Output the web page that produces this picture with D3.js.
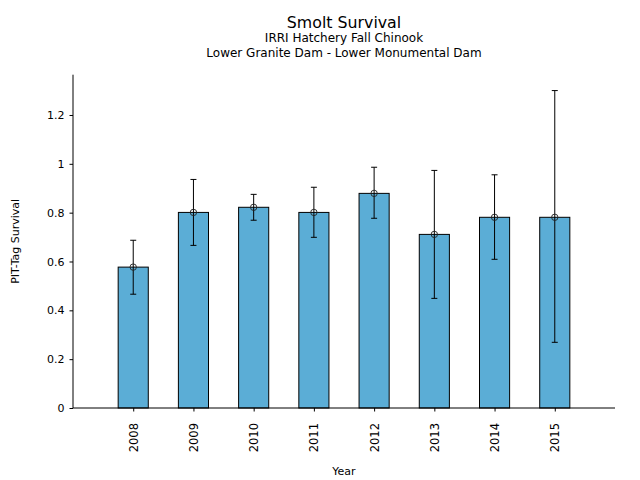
<!DOCTYPE html>
<html>
<head>
<meta charset="utf-8">
<script src="https://cdn.jsdelivr.net/npm/d3@7"></script>
<style>
body { margin: 0; background: #fff; }
svg { display: block; font-family: "DejaVu Sans", sans-serif; }
</style>
</head>
<body>
<svg id="chart" width="640" height="480"></svg>
<script>
const years = ["2008", "2009", "2010", "2011", "2012", "2013", "2014", "2015"];
const survival = [0.577, 0.801, 0.822, 0.801, 0.879, 0.711, 0.781, 0.781];
const upperCI = [0.687, 0.936, 0.875, 0.904, 0.986, 0.973, 0.955, 1.30];
const lowerCI = [0.466, 0.666, 0.769, 0.699, 0.777, 0.449, 0.609, 0.269];
const yTicks = [0, 0.2, 0.4, 0.6, 0.8, 1, 1.2];

const svg = d3.select("#chart");
const L = 73, R = 615, T = 74.7, B = 408;

const x = d3.scaleLinear().domain([-1, years.length]).range([L, R]);
const yMax = d3.max(upperCI) * 1.05;
const y = d3.scaleLinear().domain([0, yMax]).range([B, T]);
const bw = x(0.25) - x(-0.25);

// bars
svg.append("g").selectAll("rect").data(years).join("rect")
  .attr("x", (d, i) => x(i) - bw / 2)
  .attr("y", (d, i) => y(survival[i]))
  .attr("width", bw)
  .attr("height", (d, i) => y(0) - y(survival[i]))
  .attr("fill", "#5badd6")
  .attr("stroke", "#000")
  .attr("stroke-width", 1);

// error bars
const eg = svg.append("g").attr("stroke", "#000").attr("stroke-width", 1).attr("fill", "none");
years.forEach((d, i) => {
  const cx = x(i);
  eg.append("line").attr("x1", cx).attr("x2", cx).attr("y1", y(lowerCI[i])).attr("y2", y(upperCI[i]));
  eg.append("line").attr("x1", cx - 3).attr("x2", cx + 3).attr("y1", y(lowerCI[i])).attr("y2", y(lowerCI[i]));
  eg.append("line").attr("x1", cx - 3).attr("x2", cx + 3).attr("y1", y(upperCI[i])).attr("y2", y(upperCI[i]));
  eg.append("circle").attr("cx", cx).attr("cy", y(survival[i])).attr("r", 3.2)
    .attr("stroke", "#222").attr("stroke-width", 0.9);
});

// y axis
const yAxis = d3.axisLeft(y).tickValues(yTicks).tickSize(3.5).tickPadding(5)
  .tickFormat(d => d3.format("~g")(d));
const ya = svg.append("g").attr("transform", `translate(${L},0)`).call(yAxis);
ya.select(".domain").attr("d", `M0,${B}V${T}`).attr("stroke", "#000");
ya.selectAll("text").attr("font-size", 11).attr("fill", "#000").attr("font-family", "DejaVu Sans");
ya.selectAll(".tick line").attr("stroke", "#000");

// x axis
const xAxis = d3.axisBottom(x).tickValues(d3.range(years.length)).tickSize(3.5).tickPadding(0)
  .tickFormat(i => years[i]);
const xa = svg.append("g").attr("transform", `translate(0,${B})`).call(xAxis);
xa.select(".domain").attr("d", `M${L},0H${R}`).attr("stroke", "#000");
xa.selectAll(".tick line").attr("stroke", "#000");
xa.selectAll("text")
  .attr("font-size", 11.5).attr("fill", "#000").attr("font-family", "DejaVu Sans")
  .attr("transform", "rotate(-90)")
  .attr("text-anchor", "end")
  .attr("x", -15).attr("y", 0).attr("dy", "0.35em");

// labels
const cx = (L + R) / 2;
svg.append("text").attr("x", cx).attr("y", 28).attr("text-anchor", "middle")
  .attr("font-size", 15.8).text("Smolt Survival");
svg.append("text").attr("x", cx).attr("y", 42).attr("text-anchor", "middle")
  .attr("font-size", 12).text("IRRI Hatchery Fall Chinook");
svg.append("text").attr("x", cx).attr("y", 57).attr("text-anchor", "middle")
  .attr("font-size", 12).text("Lower Granite Dam - Lower Monumental Dam");
svg.append("text").attr("x", cx).attr("y", 475).attr("text-anchor", "middle")
  .attr("font-size", 11).text("Year");
svg.append("text").attr("transform", `translate(19,${(T + B) / 2}) rotate(-90)`)
  .attr("text-anchor", "middle").attr("font-size", 11).text("PIT-Tag Survival");
</script>
</body>
</html>
